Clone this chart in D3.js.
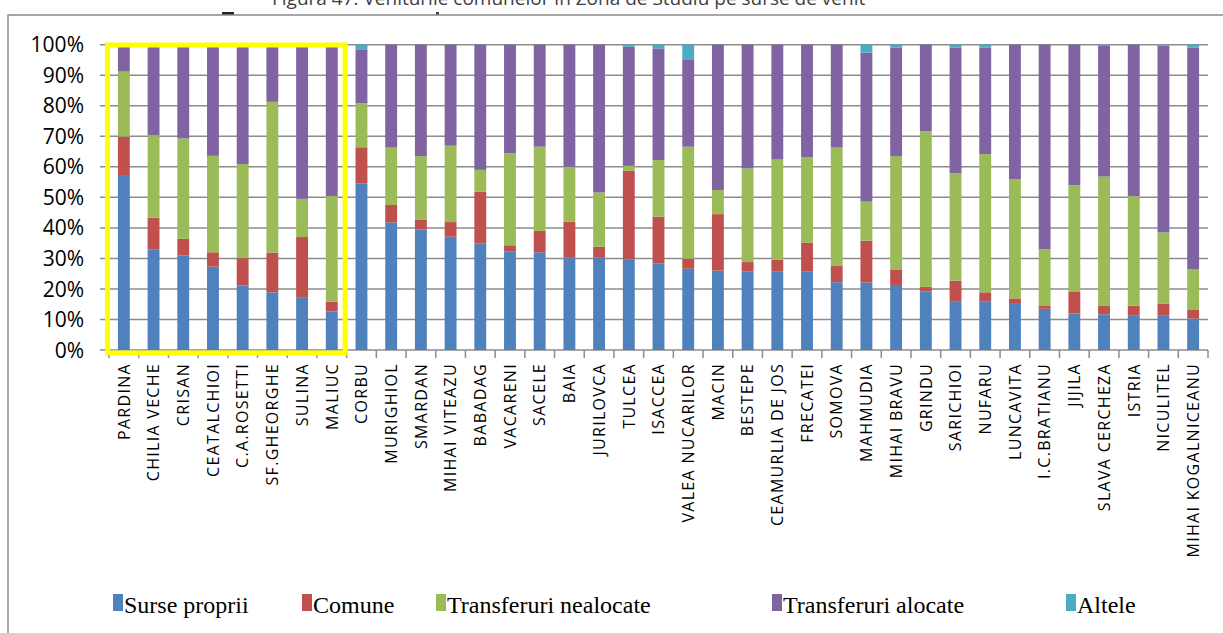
<!doctype html>
<html>
<head>
<meta charset="utf-8">
<style>
    body { margin: 0; background: #fff; }
    svg { display: block; }
    .ylab { font-family: "Open Sans", sans-serif; font-size: 21px; fill: #000; }
    .xlab { font-family: "Open Sans", sans-serif; font-size: 16px; letter-spacing: 1.3px; fill: #000; }
    .legend text { font-family: "Liberation Serif", serif; font-size: 24px; fill: #000; }
    .title { font-family: "Open Sans", sans-serif; font-size: 19px; fill: #404040; }
</style>
<script src="https://d3js.org/d3.v7.min.js"></script>
</head>
<body>
<svg width="1223" height="633"></svg>
<script>

    var categories = ["PARDINA", "CHILIA VECHE", "CRISAN", "CEATALCHIOI", "C.A.ROSETTI", "SF.GHEORGHE",
        "SULINA", "MALIUC", "CORBU", "MURIGHIOL", "SMARDAN", "MIHAI VITEAZU", "BABADAG", "VACARENI",
        "SACELE", "BAIA", "JURILOVCA", "TULCEA", "ISACCEA", "VALEA NUCARILOR", "MACIN", "BESTEPE",
        "CEAMURLIA DE JOS", "FRECATEI", "SOMOVA", "MAHMUDIA", "MIHAI BRAVU", "GRINDU", "SARICHIOI",
        "NUFARU", "LUNCAVITA", "I.C.BRATIANU", "JIJILA", "SLAVA CERCHEZA", "ISTRIA", "NICULITEL",
        "MIHAI KOGALNICEANU"];

    // shares in percent
    var surseProprii = [57.3, 33.0, 31.0, 27.3, 21.1, 18.9, 17.1, 12.6, 54.6, 41.8, 39.5, 37.1, 34.9, 32.2,
        32.0, 30.2, 30.2, 29.7, 28.4, 26.6, 26.0, 25.8, 25.8, 25.8, 22.2, 22.1, 21.3, 19.1, 16.0,
        15.8, 15.1, 13.5, 12.0, 11.7, 11.4, 11.4, 10.3];
    var comune = [12.6, 10.3, 5.4, 4.7, 9.0, 13.0, 19.9, 3.2, 11.8, 5.7, 3.1, 4.8, 17.0, 2.1,
        7.0, 11.8, 3.6, 29.0, 15.3, 3.3, 18.5, 3.0, 3.7, 9.4, 5.3, 13.7, 5.1, 1.6, 6.7,
        3.1, 1.8, 0.9, 7.0, 2.9, 3.1, 3.7, 3.0];
    var transferuriNealocate = [21.3, 27.1, 32.9, 31.6, 30.8, 49.4, 12.5, 34.6, 14.4, 18.8, 20.9, 25.0, 7.1, 30.1,
        27.6, 18.0, 17.8, 1.6, 18.5, 36.7, 7.9, 30.7, 32.9, 27.9, 38.8, 12.8, 37.1, 51.0, 35.2,
        45.3, 39.1, 18.6, 35.0, 42.2, 35.9, 23.4, 13.1];
    var transferuriAlocate = [8.8, 29.6, 30.7, 36.4, 39.1, 18.7, 50.0, 49.6, 17.7, 33.7, 36.5, 33.1, 41.0, 35.6,
        33.4, 40.0, 48.4, 39.0, 36.6, 28.4, 47.6, 40.5, 37.6, 36.9, 33.7, 48.8, 35.6, 28.3, 41.2,
        34.9, 44.0, 67.0, 46.0, 42.8, 49.6, 61.2, 72.7];
    var altele = [0, 0, 0, 0, 0, 0, 0.5, 0, 1.5, 0, 0, 0, 0, 0,
        0, 0, 0, 0.7, 1.2, 5.0, 0, 0, 0, 0, 0, 2.6, 0.9, 0, 0.9,
        0.9, 0, 0, 0, 0.4, 0, 0.3, 0.9];

    var seriesNames = ["Surse proprii", "Comune", "Transferuri nealocate", "Transferuri alocate", "Altele"];
    var seriesColors = ["#4f81bd", "#c0504d", "#9bbb59", "#8064a2", "#4bacc6"];
    var yTickValues = [0, 0.1, 0.2, 0.3, 0.4, 0.5, 0.6, 0.7, 0.8, 0.9, 1];
    var title = "Figura 47. Veniturile comunelor in Zona de Studiu pe surse de venit";

    var svg = d3.select("svg");
    var plotLeft = 109, plotRight = 1208, plotTop = 44.7, plotBottom = 350;

    var table = categories.map(function(c, i) {
        return {
            cat: c,
            "Surse proprii": surseProprii[i],
            "Comune": comune[i],
            "Transferuri nealocate": transferuriNealocate[i],
            "Transferuri alocate": transferuriAlocate[i],
            "Altele": altele[i]
        };
    });

    var stacked = d3.stack().keys(seriesNames).offset(d3.stackOffsetExpand)(table);

    var x = d3.scaleBand().domain(categories).range([plotLeft, plotRight]).paddingInner(0.6).paddingOuter(0.3);
    var y = d3.scaleLinear().domain([0, 1]).range([plotBottom, plotTop]);
    var color = d3.scaleOrdinal().domain(seriesNames).range(seriesColors);
    var step = x.step();

    // frame + clipped title (only its lower part shows)
    svg.append("text").attr("class", "title").attr("x", 272).attr("y", 5).text(title);
    svg.append("rect").attr("x", 222).attr("y", 12).attr("width", 12).attr("height", 3).attr("fill", "#222");
    svg.append("rect").attr("x", 436).attr("y", 12).attr("width", 3).attr("height", 3).attr("fill", "#444");
    svg.append("path").attr("d", "M8,633V15H1223").attr("fill", "none")
       .attr("stroke", "#8a8a8a").attr("stroke-width", 1.5);

    // gridlines + y labels
    svg.append("g").selectAll("line").data(yTickValues).enter().append("line")
       .attr("x1", 100).attr("x2", plotRight)
       .attr("y1", function(d) { return y(d); }).attr("y2", function(d) { return y(d); })
       .attr("stroke", "#8c8c8c").attr("stroke-width", 1.5);

    svg.append("g").selectAll("text").data(yTickValues).enter().append("text")
       .attr("class", "ylab")
       .attr("x", 84).attr("y", function(d) { return y(d); })
       .attr("dy", "0.36em").attr("text-anchor", "end")
       .text(d3.format(".0%"));

    svg.append("line").attr("x1", plotLeft).attr("x2", plotLeft).attr("y1", plotTop).attr("y2", plotBottom)
       .attr("stroke", "#8c8c8c").attr("stroke-width", 1.5);

    // category ticks
    var bounds = categories.map(function(c) { return x(c) + x.bandwidth() / 2 - step / 2; });
    bounds.push(plotRight);
    svg.append("g").selectAll("line").data(bounds).enter().append("line")
       .attr("x1", function(d) { return d; }).attr("x2", function(d) { return d; })
       .attr("y1", plotBottom).attr("y2", plotBottom + 8)
       .attr("stroke", "#8c8c8c").attr("stroke-width", 1.5);

    // bars
    svg.append("g").selectAll("g").data(stacked).enter().append("g")
       .attr("fill", function(d) { return color(d.key); })
       .selectAll("rect").data(function(d) { return d; }).enter().append("rect")
       .attr("x", function(d) { return x(d.data.cat); })
       .attr("width", x.bandwidth())
       .attr("y", function(d) { return y(d[1]); })
       .attr("height", function(d) { return y(d[0]) - y(d[1]); });

    // category labels
    svg.append("g").selectAll("text").data(categories).enter().append("text")
       .attr("class", "xlab")
       .attr("transform", function(d) {
           return "translate(" + (x(d) + x.bandwidth() / 2) + "," + (plotBottom + 13) + ") rotate(-90)";
       })
       .attr("dy", "0.36em").attr("text-anchor", "end")
       .text(function(d) { return d; });

    // yellow highlight box round the first eight
    var x0 = x(categories[0]) - step * 0.3 - 1.5;
    var x1 = x(categories[7]) + x.bandwidth() + step * 0.3 - 1.5;
    svg.append("rect")
       .attr("x", x0).attr("y", y(1) + 0.3)
       .attr("width", x1 - x0).attr("height", y(0) + 3 - y(1) - 0.3)
       .attr("fill", "none").attr("stroke", "#ffff00").attr("stroke-width", 5);

    // legend
    var legendX = [113, 302, 436, 772, 1066];
    var lg = svg.append("g").attr("class", "legend").selectAll("g").data(seriesNames).enter().append("g")
       .attr("transform", function(d, i) { return "translate(" + legendX[i] + ",594)"; });
    lg.append("rect").attr("width", 10).attr("height", 17).attr("fill", function(d) { return color(d); });
    lg.append("text").attr("x", 11).attr("y", 19).text(function(d) { return d; });

</script>
</body>
</html>
